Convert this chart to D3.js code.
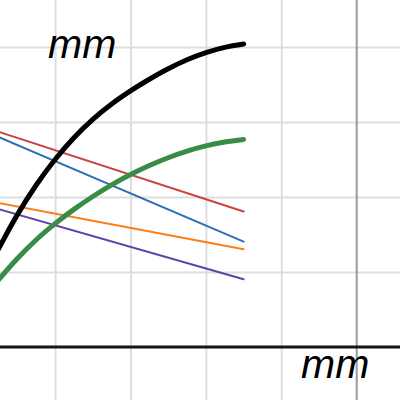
<!DOCTYPE html>
<html>
<head>
<meta charset="utf-8">
<script src="https://cdn.jsdelivr.net/npm/d3@7"></script>
<style>
  body { margin: 0; background: #fff; }
  svg { display: block; }
</style>
</head>
<body>
<svg id="chart" width="400" height="400"></svg>
<script>
// x positions of the sampled curve points
var xs = [-4.75, -4.5, -4.25, -4, -3.75, -3.5, -3.25, -3, -2.75, -2.5, -2.25, -2, -1.75, -1.5];
// thick curves
var blackCurve = [1.31, 1.765, 2.16, 2.50, 2.79, 3.035, 3.24, 3.415, 3.57, 3.71, 3.83, 3.925, 3.995, 4.04];
var greenCurve = [0.895, 1.18, 1.43, 1.645, 1.835, 2.007, 2.162, 2.299, 2.419, 2.523, 2.611, 2.681, 2.733, 2.768];
// straight lines: [start y, end y] at x = -4.75 and x = -1.5
var lineX = [-4.75, -1.5];
var redLine = [2.87, 1.807];
var blueLine = [2.80, 1.404];
var orangeLine = [1.92, 1.303];
var purpleLine = [1.84, 0.903];
// grid
var gridX = [-5, -4, -3, -2, -1, 1];
var gridY = [-1, 1, 2, 3, 4, 5];

var svg = d3.select("#chart");

var x = d3.scaleLinear().domain([-5, 1]).range([356.7 - 5 * 75.4, 356.7 + 75.4]);
var y = d3.scaleLinear().domain([0, 5]).range([347, -28]);

// grid lines via axes
var gx = svg.append("g")
    .attr("transform", "translate(0,400)")
    .call(d3.axisBottom(x).tickValues(gridX).tickSize(-400).tickFormat(""));
var gy = svg.append("g")
    .call(d3.axisLeft(y).tickValues(gridY).tickSize(-400).tickFormat(""));
[gx, gy].forEach(function (g) {
    g.select(".domain").remove();
    g.selectAll("line").attr("stroke", "#dedede").attr("stroke-width", 2);
});

// vertical axis (gray) and horizontal axis (black)
svg.append("line")
    .attr("x1", x(0)).attr("x2", x(0))
    .attr("y1", 0).attr("y2", 400)
    .attr("stroke", "#999").attr("stroke-width", 2);
svg.append("line")
    .attr("x1", 0).attr("x2", 400)
    .attr("y1", y(0)).attr("y2", y(0))
    .attr("stroke", "#151515").attr("stroke-width", 3);

var line = d3.line()
    .x(function (d) { return x(d[0]); })
    .y(function (d) { return y(d[1]); })
    .curve(d3.curveMonotoneX);

function drawSeries(xv, yv, color, width) {
    svg.append("path")
        .datum(d3.zip(xv, yv))
        .attr("d", line)
        .attr("fill", "none")
        .attr("stroke", color)
        .attr("stroke-width", width)
        .attr("stroke-linecap", "round")
        .attr("stroke-linejoin", "round");
}

drawSeries(lineX, redLine, "#c74440", 2);
drawSeries(lineX, blueLine, "#2d70b3", 2);
drawSeries(lineX, orangeLine, "#fa7e19", 2);
drawSeries(lineX, purpleLine, "#6042a6", 2);
drawSeries(xs, greenCurve, "#388c46", 5);
drawSeries(xs, blackCurve, "#000", 5);

// labels
svg.append("text")
    .attr("x", 48).attr("y", 58)
    .text("mm");
svg.append("text")
    .attr("x", 301).attr("y", 378)
    .text("mm");
svg.selectAll("text")
    .attr("font-family", "Liberation Sans, Arial, sans-serif")
    .attr("font-style", "italic")
    .attr("font-size", 41)
    .attr("fill", "#000");
</script>
</body>
</html>
